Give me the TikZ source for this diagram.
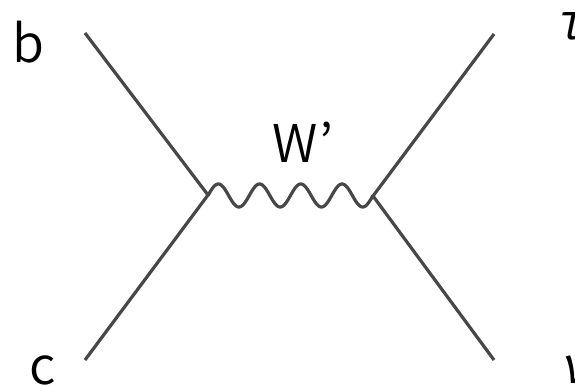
\documentclass[tikz,border=0pt]{standalone}
\usepackage{fontspec}
\setmainfont{Noto Sans CJK JP DemiLight}
\newfontfamily\greekfont[FakeSlant=0.2]{Noto Sans CJK JP DemiLight}
\begin{document}
\begin{tikzpicture}[x=1pt,y=-1pt,
  prop/.style={draw=black!72,line width=3.2pt},
  lbl/.style={inner sep=0pt,font=\fontsize{52}{60}\selectfont},
  glbl/.style={inner sep=0pt,font=\greekfont\fontsize{50}{60}\selectfont}]
\useasboundingbox[fill=white] (0,0) rectangle (575,386);
\coordinate (v1) at (208,195);
\coordinate (v2) at (373,196);
\coordinate (b) at (85,33);
\coordinate (c) at (85,360);
\coordinate (tau) at (494,34);
\coordinate (nu) at (494,360);
\draw[prop] (b) -- (v1) -- (c);
\draw[prop] (tau) -- (v2) -- (nu);
\draw[prop,line join=round] plot[domain=0:1,samples=240,smooth] ({208+165*\x},{195.5-11.5*sin(4*360*\x)});
\node[lbl] (lb) at (28,42) {b};
\node[lbl] (lc) at (43,370) {c};
\node[lbl] (lw) at (303,142) {W'};
\node[glbl,anchor=west] (lt) at (556,26) {τ};
\node[glbl,anchor=west] (ln) at (560,370) {ν};
\end{tikzpicture}
\end{document}
